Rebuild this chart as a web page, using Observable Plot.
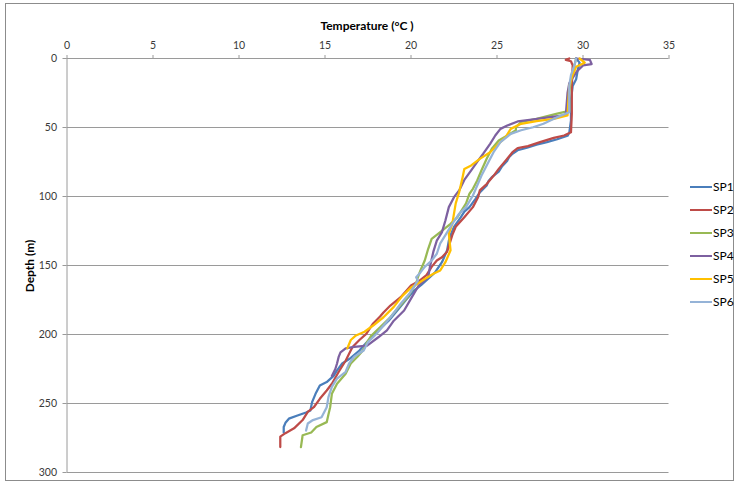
<!DOCTYPE html>
<html>
<head>
<meta charset="utf-8">
<script src="https://cdn.jsdelivr.net/npm/d3@7"></script>
<script src="https://cdn.jsdelivr.net/npm/@observablehq/plot@0.6"></script>
<style>
  html, body { margin: 0; padding: 0; background: #fff; }
  #wrap { position: relative; width: 738px; height: 485px; overflow: hidden; font-family: Lato, "Open Sans", sans-serif; }
  #frame { position: absolute; left: 5px; top: 3px; width: 729px; height: 478px; border: 1px solid #8c8c8c; box-sizing: border-box; pointer-events: none; }
  #chart { position: absolute; left: 0; top: 0; }
  .title { position: absolute; font-weight: bold; font-size: 12px; color: #000; white-space: nowrap; }
  #xtitle { left: 367px; top: 18px; transform: translateX(-50%); }
  #ytitle { left: 29px; top: 266px; transform: translate(-50%, -50%) rotate(-90deg); }
  #legend { position: absolute; left: 690px; top: 175px; font-size: 12px; color: #000; }
  .item { display: flex; align-items: center; height: 23px; }
  .swatch { width: 22px; height: 0; border-top: 2.5px solid; margin-right: 1px; }
</style>
</head>
<body>
<div id="wrap">
  <div id="chart"></div>
  <div id="frame"></div>
  <div class="title" id="xtitle">Temperature (°C )</div>
  <div class="title" id="ytitle">Depth (m)</div>
  <div id="legend"></div>
</div>
<script>
// ---- data (temperature °C, depth m) ----
const seriesNames = ["SP1", "SP2", "SP3", "SP4", "SP5", "SP6"];
const seriesColors = ["#4A7EBB", "#BE4B48", "#98B954", "#7D60A0", "#FFC000", "#95B3D7"];
const xTicks = [0, 5, 10, 15, 20, 25, 30, 35];
const yTicks = [0, 50, 100, 150, 200, 250, 300];

const sp1Temp  = [29.6,29.8,29.7,29.6,29.4,29.3,29.3,29.2,29.1,28.5,27.9,27.3,26.75,26.2,25.9,25.7,25.6,25.3,25.1,24.7,24.5,24.4,24.0,23.75,23.4,23.1,22.9,22.5,22.3,22.2,22.1,21.8,21.4,21.0,20.6,20.2,19.7,19.2,18.7,18.2,17.7,17.35,17.0,16.5,16.0,15.7,15.5,15.1,14.7,14.45,14.25,14.15,13.9,13.4,12.9,12.7,12.6,12.6];
const sp1Depth = [0,3,8,15,20,30,45,54,56,58.5,60.6,62.5,64.7,66.5,69,71.5,74,78,82,86,89,92,97,101.7,107.7,111,115,122,128,132,139,147.6,155,159.6,164,168,175,182.6,190,196,202,206.7,211.6,217,221,226,230,234.5,237,243,249,255,256.5,258.7,261,264,267,271];

const sp2Temp  = [29.2,29.0,29.3,29.4,29.35,29.35,29.3,28.9,28.3,27.5,26.8,26.2,25.9,25.7,25.5,25.1,24.8,24.4,24.0,23.9,23.6,23.1,22.6,22.4,22.3,22.1,21.8,21.5,21.2,20.9,20.5,20.0,19.4,18.8,18.4,18.2,17.8,17.4,17.0,16.6,16.4,16.2,15.8,15.4,15.1,14.7,14.35,14.0,13.7,13.2,12.7,12.4,12.4];
const sp2Depth = [0,1,2,5,20,40,53.5,55.8,57.5,60.6,63.5,65,67.9,71,74,80,85,91,95.6,100.5,107.7,115,122,128,132,140,144,146.4,151,157,161,164.5,173,179,184,187,192,199.5,204,209,214,219,227,235.7,240.6,246.6,252.7,256,262,268,271.5,274,281.6];

const sp3Temp  = [29.6,29.5,29.3,29.2,29.2,28.5,27.3,26.4,26.1,26.1,25.6,25.1,24.7,24.4,24.1,23.85,23.6,23.4,23.2,22.7,22.3,21.7,21.2,21.0,20.8,20.55,20.4,20.3,19.8,19.3,18.8,18.2,17.7,17.45,17.2,16.9,16.5,16.2,15.7,15.4,15.3,15.2,15.1,14.5,14.2,13.7,13.6];
const sp3Depth = [0,5,15,25,38,40,43.7,46,49.8,52,55.8,59.4,65.4,72.7,81,88.4,94.4,98,105,115,119.8,125.8,130.7,137.9,146.4,153.6,158.5,163,173,180,187.5,194.7,200.7,205.5,211.6,216,221,228.5,235.7,243,252.7,258,263.5,267,271,273,281.6];

const sp4Temp  = [29.6,30.4,30.5,30.0,29.6,29.2,29.1,29.0,28.1,26.9,26.2,25.6,25.2,24.9,24.6,24.2,23.9,23.5,23.1,22.8,22.5,22.2,22.0,21.8,21.5,21.3,21.1,21.0,20.45,20.0,19.6,19.0,18.6,18.1,17.45,16.7,16.2,15.9,15.8,15.7,15.6,15.4];
const sp4Depth = [0,1,4,5,10,18,25,41,42.5,44.4,45.6,48.6,51,55.8,61.8,69,74,81,88,95.6,100.5,107.7,117.4,125.8,132,140,151,158.5,164.5,174,182.6,190,197,202,208,209,210,213,216,221,225,230];

const sp5Temp  = [29.8,30.1,29.6,29.4,29.2,29.1,28.3,27.3,26.4,25.8,25.5,25.1,24.6,24.0,23.5,23.1,23.0,22.8,22.6,22.4,22.2,22.3,22.0,21.7,21.3,20.9,20.4,20.0,19.5,19.0,18.4,17.8,17.3,16.8,16.5,16.3];
const sp5Depth = [0,3,6,12,20,41.3,43.7,45.4,47.3,51,57,61.8,67.9,72.7,77.5,80,86,96.9,105,119.8,127,139,147.6,153.6,156,159,163,166,172,180,187.5,193.5,198,200.7,204,210];

const sp6Temp  = [29.6,29.5,29.3,29.2,29.2,28.5,27.7,27.1,26.4,25.8,25.2,24.8,24.4,24.1,23.85,23.6,23.2,22.8,22.4,22.0,21.7,21.5,21.2,20.8,20.55,20.3,20.4,19.9,19.4,18.9,18.4,18.0,17.5,17.25,16.7,16.4,16.2,15.7,15.4,15.2,15.1,14.8,14.3,14.0,13.9];
const sp6Depth = [0,5,12,20,39,42.5,47.3,49.8,52,54.6,60.6,67.9,77.5,84.8,92,99.3,107.7,112.5,119.8,128,134,141.5,146.4,151,155,158.5,161,170.5,177.7,186,193.5,199.5,205.5,211.6,216,221,227,232,238,245.4,252.7,260,262,264.5,269.6];

const temps = [sp1Temp, sp2Temp, sp3Temp, sp4Temp, sp5Temp, sp6Temp];
const depths = [sp1Depth, sp2Depth, sp3Depth, sp4Depth, sp5Depth, sp6Depth];

const rows = [];
seriesNames.forEach((s, i) => {
  temps[i].forEach((t, j) => rows.push({ s, t, d: depths[i][j] }));
});

const gridColor = "#9a9a9a";
const chart = Plot.plot({
  width: 738,
  height: 485,
  marginLeft: 66.5,
  marginRight: 69.5,
  marginTop: 58,
  marginBottom: 13,
  style: { fontFamily: "Lato, 'Open Sans', sans-serif", fontSize: "10.5px", color: "#3a3a3a", background: "transparent" },
  x: { domain: [0, 35] },
  y: { domain: [0, 300], reverse: true },
  color: { domain: seriesNames, range: seriesColors },
  marks: [
    Plot.gridY(yTicks.slice(1), { stroke: gridColor, strokeOpacity: 1, strokeWidth: 1 }),
    Plot.ruleY([0], { stroke: gridColor, strokeWidth: 1 }),
    Plot.ruleX([0], { stroke: gridColor, strokeWidth: 1 }),
    Plot.axisX(xTicks, { anchor: "top", tickSize: 4, tickPadding: 6, label: null, stroke: gridColor, fill: "#3a3a3a" }),
    Plot.axisY(yTicks, { anchor: "left", tickSize: 4, tickPadding: 6, label: null, stroke: gridColor, fill: "#3a3a3a" }),
    Plot.line(rows, { x: "t", y: "d", z: "s", stroke: "s", strokeWidth: 2.25, strokeLinejoin: "round", strokeLinecap: "round" })
  ]
});
document.getElementById("chart").appendChild(chart);

const legend = document.getElementById("legend");
seriesNames.forEach((s, i) => {
  const item = document.createElement("div");
  item.className = "item";
  const sw = document.createElement("div");
  sw.className = "swatch";
  sw.style.borderTopColor = seriesColors[i];
  const lab = document.createElement("span");
  lab.textContent = s;
  item.appendChild(sw);
  item.appendChild(lab);
  legend.appendChild(item);
});
</script>
</body>
</html>
